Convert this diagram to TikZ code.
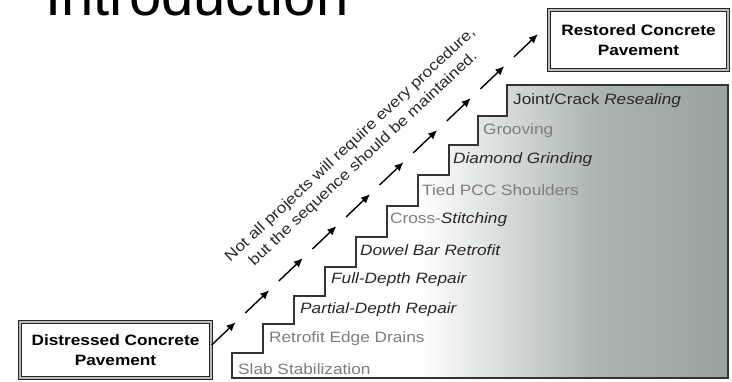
\documentclass[tikz,border=0pt]{standalone}
\usepackage{fontspec}
\setmainfont{Liberation Sans}
\newfontfamily\stairfont[FakeStretch=1.15]{Liberation Sans}
\usetikzlibrary{arrows.meta,calc,decorations.markings}
\usepackage{xcolor}
\definecolor{stairgray}{RGB}{170,180,178}
\definecolor{stairdeep}{RGB}{152,162,160}
\definecolor{labelgray}{RGB}{125,125,125}
\definecolor{labeldark}{RGB}{40,40,40}
\pgfdeclarehorizontalshading{stairshade}{100bp}{color(0bp)=(white); color(25bp)=(white); color(44bp)=(white); color(62bp)=(stairgray); color(75bp)=(stairdeep); color(100bp)=(stairdeep)}

\begin{document}
\begin{tikzpicture}[x=1pt, y=-1pt,
    box/.style={draw=black!85, line width=1.4pt, double=gray!55, double distance=1.2pt, fill=white, align=center, inner sep=0pt, font=\stairfont\bfseries\fontsize{15}{20}\selectfont},
    gstep/.style={anchor=west, inner sep=0pt, text=labelgray, font=\stairfont\fontsize{15}{18}\selectfont},
    dstep/.style={gstep, text=labeldark, font=\stairfont\itshape\fontsize{15}{18}\selectfont},
    stairs/.style={draw=black!80, line width=1.3pt, shading=stairshade},
    note/.style={rotate=43, align=center, inner sep=0pt, text=labeldark, font=\stairfont\fontsize{15}{19}\selectfont},
    chain/.style={line width=1.4pt, dash pattern=on 28pt off 18.4pt, postaction={decorate},
        decoration={markings, mark=between positions 33pt and -1pt step 46.4pt with {\arrow{Latex[length=9pt,width=8pt]}}}}
]
    \clip (0,0) rectangle (732,382);

    \node[anchor=base west, inner sep=0pt, font=\fontsize{58}{60}\selectfont] (title) at (45,16) {Introduction};

    % the staircase
    \shadedraw[stairs] (232,378) |- (263,353) |- (294,324) |- (325,296) |- (356,267) |- (387,237)
        |- (418,206) |- (449,175) |- (478,145) |- (507,116) |- (728,85) -- (728,378) -- cycle;

    \node[gstep] (slab) at (238,369) {Slab Stabilization};
    \node[gstep] (drains) at (269,339) {Retrofit Edge Drains};
    \node[dstep] (partial) at (300,310) {Partial-Depth Repair};
    \node[dstep] (full) at (331,280) {Full-Depth Repair};
    \node[dstep] (dowel) at (360,250) {Dowel Bar Retrofit};
    \node[gstep] (cross) at (390,220) {Cross-{\color{labeldark}\itshape Stitching}};
    \node[gstep] (tied) at (422,190) {Tied PCC Shoulders};
    \node[dstep] (grind) at (453,160) {Diamond Grinding};
    \node[gstep] (groove) at (483,131) {Grooving};
    \node[gstep, text=labeldark] (reseal) at (513,101) {Joint/Crack \textit{Resealing}};

    \node[box, minimum width=191pt, minimum height=56pt] (dist) at (115.5,350) {Distressed Concrete\\Pavement};
    \node[box, minimum width=179pt, minimum height=60pt] (rest) at (638.5,40) {Restored Concrete\\Pavement};

    \node[note] (advice) at (357,152) {Not all projects will require every procedure,\\but the sequence should be maintained.};

    \coordinate (chainstart) at ([yshift=5pt]dist.east);
    \coordinate (chainend) at ([shift={(-5pt,11pt)}]rest.west);
    \draw[chain] (chainstart) -- (chainend);
\end{tikzpicture}
\end{document}
